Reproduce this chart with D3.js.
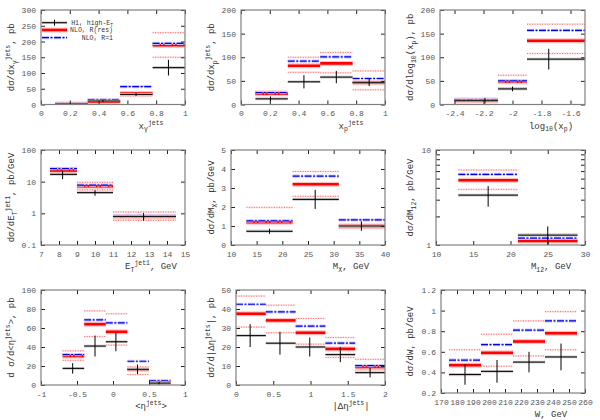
<!DOCTYPE html>
<html>
<head>
<meta charset="utf-8">
<script src="https://cdn.jsdelivr.net/npm/d3@7"></script>
<style>
  body { margin: 0; background: #fff; }
  svg { display: block; }
</style>
</head>
<body>
<svg id="chart" width="600" height="420"></svg>
<script>
// --- x_gamma^jets
const xgEdges = [0.1, 0.325, 0.55, 0.775, 1.0];
const xgDataX = [0.2, 0.43, 0.66, 0.885];
const xgData = [1.5, 11, 32, 117];
const xgErr = [1.5, 3, 5, 25];
const xgRes = [1.5, 9, 35, 188];
const xgR1 = [2, 15, 57, 194];
const xgUp = [3, 17, 58, 228];
const xgDn = [1, 7, 27, 150];

// --- x_p^jets
const xpEdges = [0.1, 0.325, 0.55, 0.775, 1.0];
const xpDataX = [0.205, 0.437, 0.662, 0.89];
const xpData = [12, 48, 58, 47];
const xpErr = [5, 14, 13, 8];
const xpRes = [23, 82, 87, 46];
const xpR1 = [25, 92, 101, 55];
const xpUp = [28, 100, 110, 71];
const xpDn = [20, 68, 67, 31];

// --- log10(x_p)
const lxEdges = [-2.4, -2.1, -1.9, -1.5];
const lxDataX = [-2.19, -2.0, -1.75];
const lxData = [8, 33, 96];
const lxErr = [6, 5, 22];
const lxRes = [8, 48, 135];
const lxR1 = [10, 50, 157];
const lxUp = [13, 62, 170];
const lxDn = [5, 35, 108];

// --- E_T^jet1 (log y)
const etEdges = [7.5, 9, 11, 14.5];
const etDataX = [8.2, 10, 12.7];
const etData = [17, 4.5, 0.8];
const etErr = [5, 0.9, 0.22];
const etRes = [22.5, 7.2, 0.78];
const etR1 = [26, 7.8, 0.83];
const etUp = [28, 9.5, 1.1];
const etDn = [18, 5.5, 0.6];

// --- M_X
const mxEdges = [13, 22, 31, 40];
const mxDataX = [17.5, 26.4, 35.4];
const mxData = [0.72, 2.4, 1.0];
const mxErr = [0.13, 0.5, 0.25];
const mxRes = [1.2, 3.2, 1.0];
const mxR1 = [1.27, 3.62, 1.32];
const mxUp = [1.98, 3.87, 1.33];
const mxDn = [0.77, 2.56, 0.88];

// --- M_12 (log y)
const m12Edges = [13, 21, 29];
const m12DataX = [17, 25];
const m12Data = [3.35, 1.27];
const m12Err = [0.82, 0.3];
const m12Res = [4.8, 1.1];
const m12R1 = [5.55, 1.18];
const m12Up = [6.15, 1.3];
const m12Dn = [3.85, 0.9];

// --- <eta^jets>
const etaEdges = [-0.7, -0.4, -0.1, 0.2, 0.5, 0.8];
const etaDataX = [-0.56, -0.25, 0.04, 0.34, 0.64];
const etaData = [17.5, 41, 45.5, 16.5, 2];
const etaErr = [5.5, 11, 10, 5, 1.5];
const etaRes = [30.5, 64, 56, 16.5, 2.5];
const etaR1 = [32, 68.5, 65.5, 25, 4.5];
const etaUp = [36, 78, 75, 19, 5];
const etaDn = [26, 51, 42, 11, 1];

// --- |delta eta^jets|
const detaEdges = [0, 0.4, 0.8, 1.2, 1.6, 2.0];
const detaDataX = [0.19, 0.59, 0.99, 1.4, 1.8];
const detaData = [26, 22, 20, 16, 6.5];
const detaErr = [6, 6, 5, 4, 2.5];
const detaRes = [37.5, 34, 27.5, 19, 9.5];
const detaR1 = [42.5, 38.5, 31, 22, 10.2];
const detaUp = [46.8, 42, 35, 25, 13.5];
const detaDn = [30.5, 27.5, 21.5, 14.5, 8];

// --- W
const wEdges = [175, 195, 215, 235, 255];
const wDataX = [185, 205, 225, 245];
const wData = [0.38, 0.41, 0.50, 0.55];
const wErr = [0.10, 0.11, 0.10, 0.13];
const wRes = [0.47, 0.59, 0.70, 0.78];
const wR1 = [0.52, 0.67, 0.81, 0.90];
const wUp = [0.62, 0.77, 0.90, 0.99];
const wDn = [0.37, 0.46, 0.56, 0.62];

// tick labels
const ticks01 = [0, 0.2, 0.4, 0.6, 0.8, 1];
const ticksLx = [-2.4, -2.2, -2, -1.8, -1.6];
const ticksEt = [7, 8, 9, 10, 11, 12, 13, 14, 15];
const ticksMx = [10, 15, 20, 25, 30, 35, 40];
const ticksM12 = [10, 15, 20, 25, 30];
const ticksEta = [-1, -0.5, 0, 0.5, 1];
const ticksDeta = [0, 0.5, 1, 1.5, 2];
const ticksW = [170, 180, 190, 200, 210, 220, 230, 240, 250, 260];
const yTicks300 = [0, 50, 100, 150, 200, 250, 300];
const yTicks200 = [0, 50, 100, 150, 200];
const yTicksLogEt = [0.1, 1, 10, 100];
const yTicks5 = [0, 1, 2, 3, 4, 5];
const yTicksLogM12 = [1, 10];
const yTicks100 = [0, 20, 40, 60, 80, 100];
const yTicks50 = [0, 10, 20, 30, 40, 50];
const yTicksW = [0.2, 0.4, 0.6, 0.8, 1, 1.2];

const FONT = "'Liberation Mono', 'DejaVu Sans Mono', monospace";
const svg = d3.select("#chart").attr("font-family", FONT);

const panels = [
  { box: [41, 185, 10, 104.5], xDom: [0, 1], yDom: [0, 300], xt: ticks01, yt: yTicks300,
    xlab: "x_{γ}^{jets}", ylab: "dσ/dx_{γ}^{jets}, pb",
    e: xgEdges, dx: xgDataX, d: xgData, err: xgErr, res: xgRes, r1: xgR1, up: xgUp, dn: xgDn, legend: true },
  { box: [241, 385, 10, 104.5], xDom: [0, 1], yDom: [0, 200], xt: ticks01, yt: yTicks200,
    xlab: "x_{p}^{jets}", ylab: "dσ/dx_{p}^{jets}, pb",
    e: xpEdges, dx: xpDataX, d: xpData, err: xpErr, res: xpRes, r1: xpR1, up: xpUp, dn: xpDn },
  { box: [440, 585, 10, 104.5], xDom: [-2.5, -1.5], yDom: [0, 200], xt: ticksLx, yt: yTicks200,
    xlab: "log_{10}(x_{p})", ylab: "dσ/dlog_{10}(x_{p}), pb",
    e: lxEdges, dx: lxDataX, d: lxData, err: lxErr, res: lxRes, r1: lxR1, up: lxUp, dn: lxDn },
  { box: [41, 185, 150, 245], xDom: [7, 15], yDom: [0.1, 100], log: true, xt: ticksEt, yt: yTicksLogEt,
    xlab: "E_{T}^{jet1}, GeV", ylab: "dσ/dE_{T}^{jet1}, pb/GeV",
    e: etEdges, dx: etDataX, d: etData, err: etErr, res: etRes, r1: etR1, up: etUp, dn: etDn },
  { box: [231, 385, 150, 245], xDom: [10, 40], yDom: [0, 5], xt: ticksMx, yt: yTicks5,
    xlab: "M_{X}, GeV", ylab: "dσ/dM_{X}, pb/GeV",
    e: mxEdges, dx: mxDataX, d: mxData, err: mxErr, res: mxRes, r1: mxR1, up: mxUp, dn: mxDn },
  { box: [436, 585, 150, 245], xDom: [10, 30], yDom: [1, 10], log: true, minor: true, xt: ticksM12, yt: yTicksLogM12,
    xlab: "M_{12}, GeV", ylab: "dσ/dM_{12}, pb/GeV",
    e: m12Edges, dx: m12DataX, d: m12Data, err: m12Err, res: m12Res, r1: m12R1, up: m12Up, dn: m12Dn },
  { box: [41, 185, 290, 385], xDom: [-1, 1], yDom: [0, 100], xt: ticksEta, yt: yTicks100,
    xlab: "<η^{jets}>", ylab: "d σ/d<η^{jets}>, pb",
    e: etaEdges, dx: etaDataX, d: etaData, err: etaErr, res: etaRes, r1: etaR1, up: etaUp, dn: etaDn },
  { box: [236, 385, 290, 385], xDom: [0, 2], yDom: [0, 50], xt: ticksDeta, yt: yTicks50,
    xlab: "|Δη^{jets}|", ylab: "dσ/d|Δη^{jets}|, pb",
    e: detaEdges, dx: detaDataX, d: detaData, err: detaErr, res: detaRes, r1: detaR1, up: detaUp, dn: detaDn },
  { box: [441, 585, 290, 393], xDom: [170, 260], yDom: [0.2, 1.2], xt: ticksW, yt: yTicksW,
    xlab: "W, GeV", ylab: "dσ/dW, pb/GeV",
    e: wEdges, dx: wDataX, d: wData, err: wErr, res: wRes, r1: wR1, up: wUp, dn: wDn }
];

// text with _{sub} and ^{sup}
function rich(t, s, fs) {
  const re = /([_^])\{([^}]*)\}|([^_^]+)/g;
  let cur = 0, m;
  while ((m = re.exec(s))) {
    let target = 0, txt = m[3], size = fs;
    if (m[1]) {
      target = m[1] === "^" ? -0.42 * fs : 0.3 * fs;
      txt = m[2];
      size = fs * 0.72;
    }
    t.append("tspan").attr("dy", target - cur).attr("font-size", size).text(txt);
    cur = target;
  }
}

function hline(g, x1, x2, yy) {
  return g.append("line").attr("x1", x1).attr("x2", x2).attr("y1", yy).attr("y2", yy);
}
function drawBlue(g, x1, x2, yy) {
  hline(g, x1, x2, yy).attr("stroke", "#c4c4ff").attr("stroke-width", 3.2).attr("stroke-dasharray", "7,1.5,2,1.5");
  hline(g, x1, x2, yy).attr("stroke", "#0000e6").attr("stroke-width", 1.2).attr("stroke-dasharray", "7,1.5,2,1.5");
}
function drawRed(g, x1, x2, yy) {
  hline(g, x1, x2, yy).attr("stroke", "#ffc0c0").attr("stroke-width", 5);
  hline(g, x1, x2, yy).attr("stroke", "#ff0000").attr("stroke-width", 2.6);
}
function drawDot(g, x1, x2, yy) {
  hline(g, x1, x2, yy).attr("stroke", "#ffe4e4").attr("stroke-width", 2);
  hline(g, x1, x2, yy).attr("stroke", "#f05a5a").attr("stroke-width", 0.9).attr("stroke-dasharray", "1,1.5");
}
function drawData(g, x1, x2, yy, xc, ylo, yhi) {
  hline(g, x1, x2, yy).attr("stroke", "#c4c4c4").attr("stroke-width", 2.6);
  hline(g, x1, x2, yy).attr("stroke", "#000").attr("stroke-width", 1);
  g.append("line").attr("x1", xc).attr("x2", xc).attr("y1", ylo).attr("y2", yhi)
    .attr("stroke", "#000").attr("stroke-width", 1);
}

panels.forEach((p, k) => {
  const [l, r, t, b] = p.box;
  const x = d3.scaleLinear().domain(p.xDom).range([l, r]);
  const y = (p.log ? d3.scaleLog() : d3.scaleLinear()).domain(p.yDom).range([b, t]);

  svg.append("clipPath").attr("id", "clip" + k)
    .append("rect").attr("x", l).attr("y", t).attr("width", r - l).attr("height", b - t);

  const g = svg.append("g").attr("clip-path", `url(#clip${k})`);
  const bins = p.e.slice(0, -1).map((e0, i) => ({ x0: x(e0), x1: x(p.e[i + 1]), i }));

  bins.forEach(({ x0, x1, i }) => { drawDot(g, x0, x1, y(p.up[i])); drawDot(g, x0, x1, y(p.dn[i])); });
  bins.forEach(({ x0, x1, i }) => drawRed(g, x0, x1, y(p.res[i])));
  bins.forEach(({ x0, x1, i }) => drawBlue(g, x0, x1, y(p.r1[i])));
  bins.forEach(({ x0, x1, i }) => {
    let lo = p.d[i] - p.err[i];
    if (p.log && lo <= 0) lo = p.yDom[0];
    drawData(g, x0, x1, y(p.d[i]), x(p.dx[i]), y(lo), y(p.d[i] + p.err[i]));
  });

  // axes with inward ticks on all sides
  const ax = (gen, tr, vals, lab, pad) => {
    const a = svg.append("g").attr("transform", tr)
      .call(gen.tickValues(vals).tickSizeInner(-4).tickSizeOuter(0)
        .tickPadding(pad).tickFormat(lab ? d => String(d) : () => ""));
    a.select(".domain").remove();
    a.selectAll("line").attr("stroke", "#222");
    a.selectAll("text").attr("fill", "#555").attr("font-size", 8).attr("font-family", FONT);
    return a;
  };
  ax(d3.axisBottom(x), `translate(0,${b})`, p.xt, true, 6);
  ax(d3.axisTop(x), `translate(0,${t})`, p.xt, false, 0);
  ax(d3.axisLeft(y), `translate(${l},0)`, p.yt, true, 5);
  ax(d3.axisRight(y), `translate(${r},0)`, p.yt, false, 0);
  if (p.minor) {
    const mv = [2, 3, 4, 5, 6, 7, 8, 9];
    ax(d3.axisLeft(y), `translate(${l},0)`, mv, false, 0);
    ax(d3.axisRight(y), `translate(${r},0)`, mv, false, 0);
  }

  svg.append("rect").attr("x", l).attr("y", t).attr("width", r - l).attr("height", b - t)
    .attr("fill", "none").attr("stroke", "#808080").attr("stroke-width", 1.2);

  // axis titles
  const xt = svg.append("text").attr("x", r - 34).attr("y", b + 24)
    .attr("text-anchor", "middle").attr("fill", "#333").attr("font-size", 9);
  rich(xt, p.xlab, 9);

  const colX = [14, 214, 413][k % 3];
  const yt = svg.append("text")
    .attr("transform", `translate(${colX},${(t + b) / 2}) rotate(-90)`)
    .attr("text-anchor", "middle").attr("fill", "#333").attr("font-size", 9);
  rich(yt, p.ylab, 9);

  if (p.legend) {
    const lg = svg.append("g");
    const rows = [22.7, 30, 37.7];
    const labels = ["H1, high-E_{T}", "NLO, R(res)", "NLO, R=1"];
    drawData(lg, 42, 67, rows[0], 54.5, rows[0] - 3, rows[0] + 3);
    drawRed(lg, 42, 67, rows[1]);
    drawBlue(lg, 42, 67, rows[2]);
    rows.forEach((ry, i) => {
      const tx = lg.append("text").attr("x", 113).attr("y", ry + 2.3)
        .attr("text-anchor", "end").attr("fill", "#333").attr("font-size", 6.5);
      rich(tx, labels[i], 6.5);
    });
  }
});
</script>
</body>
</html>
